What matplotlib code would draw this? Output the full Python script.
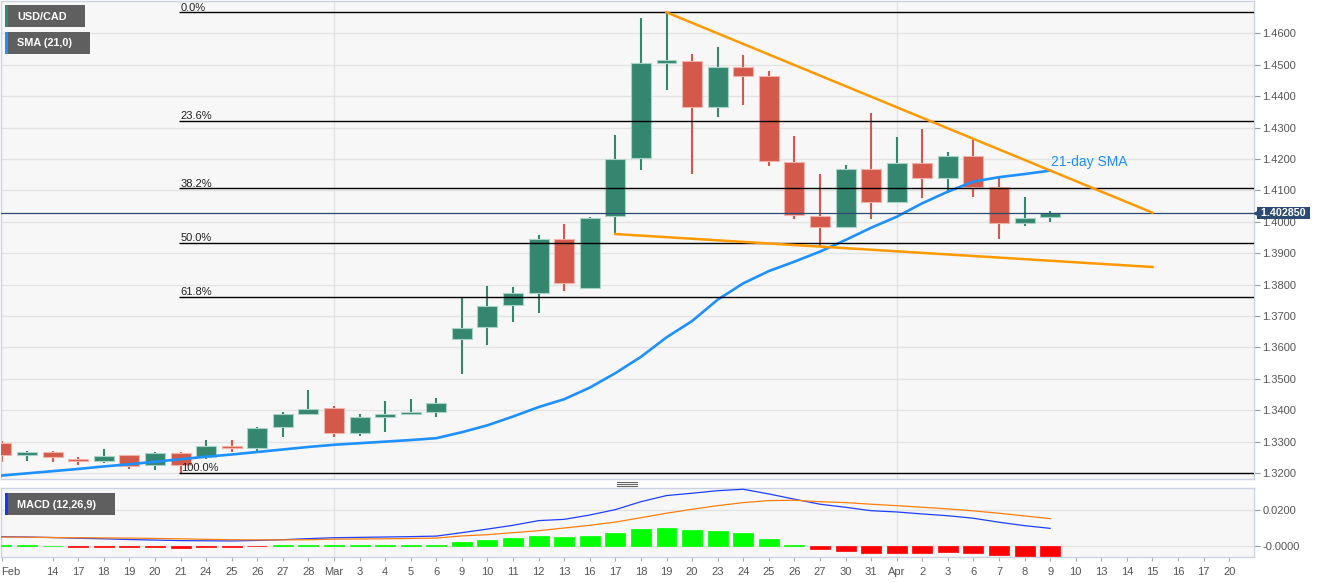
import matplotlib
matplotlib.use('Agg')
import matplotlib.pyplot as plt
from matplotlib.patches import Rectangle
from matplotlib.lines import Line2D
from matplotlib.transforms import Affine2D, blended_transform_factory
import numpy as np

plt.rcParams['font.family'] = ['Liberation Sans', 'DejaVu Sans']

# daily USD/CAD candles, Feb 12 .. Apr 9
opens = [1.3296, 1.3258, 1.3268, 1.3246, 1.3238, 1.3256, 1.3224, 1.3263, 1.3252, 1.3287,
         1.3279, 1.3346, 1.3388, 1.3406, 1.3327, 1.3380, 1.3388, 1.3394, 1.3626, 1.3664,
         1.3734, 1.3774, 1.3944, 1.3789, 1.4018, 1.4204, 1.4506, 1.4512, 1.4364, 1.4494,
         1.4463, 1.4190, 1.4018, 1.3983, 1.4167, 1.4064, 1.4188, 1.4139, 1.4210, 1.4110,
         1.3995, 1.4014]
highs = [1.3302, 1.3271, 1.3270, 1.3250, 1.3277, 1.3257, 1.3268, 1.3268, 1.3305, 1.3305,
         1.3348, 1.3395, 1.3465, 1.3414, 1.3388, 1.3430, 1.3436, 1.3438, 1.3758, 1.3796,
         1.3792, 1.3958, 1.3992, 1.4015, 1.4276, 1.4649, 1.4667, 1.4534, 1.4556, 1.4531,
         1.4480, 1.4273, 1.4152, 1.4181, 1.4345, 1.4271, 1.4295, 1.4223, 1.4260, 1.4142,
         1.4078, 1.4034]
lows = [1.3236, 1.3239, 1.3236, 1.3224, 1.3231, 1.3213, 1.3210, 1.3200, 1.3245, 1.3268,
        1.3268, 1.3316, 1.3385, 1.3316, 1.3319, 1.3330, 1.3388, 1.3380, 1.3516, 1.3609,
        1.3682, 1.3708, 1.3781, 1.3789, 1.3961, 1.4166, 1.4420, 1.4151, 1.4335, 1.4373,
        1.4179, 1.4010, 1.3924, 1.3983, 1.4009, 1.4062, 1.4077, 1.4093, 1.4080, 1.3944,
        1.3988, 1.4000]
closes = [1.3258, 1.3267, 1.3250, 1.3238, 1.3255, 1.3223, 1.3263, 1.3226, 1.3287, 1.3281,
          1.3344, 1.3388, 1.3404, 1.3327, 1.3378, 1.3387, 1.3394, 1.3422, 1.3661, 1.3732,
          1.3772, 1.3945, 1.3805, 1.4013, 1.4200, 1.4505, 1.4514, 1.4364, 1.4494, 1.4464,
          1.4193, 1.4021, 1.3983, 1.4167, 1.4064, 1.4188, 1.4139, 1.4210, 1.4112, 1.3995,
          1.4013, 1.40285]
sma21 = [1.3192, 1.3199, 1.3206, 1.3213, 1.3221, 1.3228, 1.3236, 1.3244, 1.3252, 1.3259,
         1.3267, 1.3275, 1.3283, 1.3290, 1.3295, 1.3300, 1.3305, 1.3311, 1.3330, 1.3352,
         1.3380, 1.3410, 1.3435, 1.3472, 1.3518, 1.3570, 1.3632, 1.3684, 1.3752, 1.3804,
         1.3843, 1.3873, 1.3905, 1.3942, 1.3981, 1.4016, 1.4059, 1.4096, 1.4128, 1.4142,
         1.4152, 1.4163]

# MACD (12,26,9)
macd = [0.0052, 0.0050, 0.0047, 0.0043, 0.0040, 0.0036, 0.0033, 0.0030, 0.0029, 0.0028,
        0.0031, 0.0035, 0.0041, 0.0046, 0.0048, 0.0050, 0.0052, 0.0055, 0.0074, 0.0094,
        0.0115, 0.0141, 0.0148, 0.0172, 0.0202, 0.0246, 0.0280, 0.0293, 0.0307, 0.0315,
        0.0289, 0.0260, 0.0232, 0.0215, 0.0196, 0.0189, 0.0178, 0.0168, 0.0154, 0.0132,
        0.0113, 0.0098]
signal = [0.0050, 0.0049, 0.0047, 0.0046, 0.0045, 0.0044, 0.0042, 0.0040, 0.0037, 0.0035,
          0.0034, 0.0034, 0.0035, 0.0038, 0.0039, 0.0040, 0.0042, 0.0044, 0.0056, 0.0063,
          0.0074, 0.0085, 0.0100, 0.0115, 0.0133, 0.0157, 0.0182, 0.0204, 0.0224, 0.0241,
          0.0252, 0.0254, 0.0246, 0.0241, 0.0232, 0.0224, 0.0215, 0.0206, 0.0195, 0.0182,
          0.0167, 0.0152]
hist = [0.0004, 0.0004, 0.0001, -0.0004, -0.0005, -0.0008, -0.0008, -0.0010, -0.0006, -0.0006,
        -0.0001, 0.0004, 0.0008, 0.0006, 0.0005, 0.0005, 0.0005, 0.0005, 0.0022, 0.0035,
        0.0043, 0.0056, 0.0050, 0.0057, 0.0071, 0.0093, 0.0100, 0.0089, 0.0083, 0.0072,
        0.0041, 0.0007, -0.0018, -0.0026, -0.0037, -0.0037, -0.0037, -0.0035, -0.0041, -0.0050,
        -0.0054, -0.0054]

# x axis labels (trading days incl. future slots up to Apr 20)
day_labels = ["Feb", "", "14", "17", "18", "19", "20", "21", "24", "25", "26", "27", "28",
              "Mar", "3", "4", "5", "6", "9", "10", "11", "12", "13", "16", "17", "18", "19",
              "20", "23", "24", "25", "26", "27", "30", "31", "Apr", "2", "3", "6", "7", "8",
              "9", "10", "13", "14", "15", "16", "17", "20"]

fib_high, fib_low = 1.4667, 1.3200
fib_ratios = [0.0, 0.236, 0.382, 0.5, 0.618, 1.0]
fib_start = 6.95

# trend lines: (x index, price)
upper_trend = [(26, 1.4667), (45, 1.4029)]
lower_trend = [(24, 1.3961), (45, 1.3856)]

W, H = 1331, 583
GREEN, RED = '#35866f', '#d3594a'
FRAME = '#cbd3e3'

fig = plt.figure(figsize=(W / 100, H / 100), dpi=100)
fig.patch.set_facecolor('white')
px = Affine2D().scale(1 / W, -1 / H).translate(0, 1) + fig.transFigure


def axes_px(x0, y0, x1, y1):
    return fig.add_axes([x0 / W, 1 - y1 / H, (x1 - x0) / W, (y1 - y0) / H])


ax = axes_px(1, 1, 1254, 479)
axm = axes_px(1, 488, 1254, 557)

n = len(closes)
x = np.arange(n)
xlim = (-0.02, 48.97)

for a in (ax, axm):
    a.set_facecolor('#f7f7f7')
    a.set_xlim(*xlim)
    for s in a.spines.values():
        s.set_color(FRAME)
        s.set_linewidth(1)
    a.yaxis.tick_right()
    a.tick_params(axis='y', length=4, width=0.8, color='#999999', labelsize=8,
                  labelcolor='#555555', pad=2)
    a.yaxis.grid(True, color='#e3e3e3', lw=1)
    a.set_axisbelow(True)
    for m in ("Mar", "Apr"):
        a.axvline(day_labels.index(m), color='#e3e3e3', lw=1, zorder=0)

# ---- price panel
ax.set_ylim(1.3181, 1.4703)
yt = np.round(np.arange(1.32, 1.4601, 0.01), 2)
ax.set_yticks(yt)
ax.set_yticklabels(['%.4f' % v for v in yt])
ax.set_xticks([])

o, c = np.array(opens), np.array(closes)
up = c >= o
cols = np.where(up, GREEN, RED)
edges = np.where(up, '#a9d3c6', '#f2b4aa')
ax.vlines(x, lows, highs, color=cols, lw=1.5, zorder=2)
ax.bar(x, np.maximum(np.abs(c - o), 0.0003), bottom=np.minimum(o, c), width=0.78,
       color=cols, edgecolor=edges, linewidth=0.8, zorder=3)

ax.plot(x, sma21, color='#1e90ff', lw=1.9, zorder=4)
ax.text(x[-1] + 0.05, sma21[-1] + 0.0027, '21-day SMA', color='#1e90ff', fontsize=10,
        ha='left', va='center')

for pts in (upper_trend, lower_trend):
    ax.plot([p[0] for p in pts], [p[1] for p in pts], color='#ff9900', lw=1.8, zorder=5)

for r in fib_ratios:
    lvl = fib_high - r * (fib_high - fib_low)
    ax.hlines(lvl, fib_start, xlim[1], color='black', lw=1.0, zorder=4)
    ax.annotate('%.1f%%' % (r * 100), (fib_start, lvl), xytext=(1, 1.2),
                textcoords='offset points', ha='left', va='baseline', fontsize=8,
                color='#222222', zorder=6)

last = closes[-1]
ax.axhline(last, color='#2c4b74', lw=0.9, zorder=4)
bt = blended_transform_factory(ax.transAxes, ax.transData)
ax.text(1.0035, last, ' %.6f ' % last, transform=bt, ha='left', va='center', color='white',
        fontsize=7.7, fontweight='bold', clip_on=False, zorder=10,
        bbox=dict(boxstyle='square,pad=0.12', fc='#2c4b74', ec='none'))
ax.plot([1.0018], [last], marker='<', ms=3.5, color='#2c4b74', transform=bt, clip_on=False,
        zorder=10)

# ---- MACD panel
axm.set_ylim(-0.0061, 0.0322)
axm.set_yticks([0.0, 0.02])
axm.set_yticklabels(['-0.0000', '0.0200'])
hc = np.where(np.array(hist) >= 0, '#00ff00', '#ff0000')
axm.bar(x, hist, width=0.78, color=hc, edgecolor=hc, linewidth=0.5, zorder=3)
axm.plot(x, macd, color='#1f3fff', lw=0.9, zorder=4)
axm.plot(x, signal, color='#ff7f0e', lw=0.9, zorder=4)

ticks = [i for i, s in enumerate(day_labels) if s]
axm.set_xticks(ticks)
axm.set_xticklabels([day_labels[i] for i in ticks])
axm.tick_params(axis='x', length=3, width=0.8, color='#aaaaaa', labelsize=8,
                labelcolor='#555555', pad=4)
axm.get_xticklabels()[0].set_ha('left')

# ---- legend boxes
for (bx, by, bw, stripe, label) in [(5, 5, 80, '#2e8b70', 'USD/CAD'),
                                    (5, 32, 85, '#1e90ff', 'SMA (21,0)'),
                                    (5, 493, 110, '#0a3cff', 'MACD (12,26,9)')]:
    fig.add_artist(Rectangle((bx, by), bw, 22, transform=px, fc='#5f5f5f', ec='none'))
    fig.add_artist(Rectangle((bx, by), 2.5, 22, transform=px, fc=stripe, ec='none'))
    fig.text(bx + 12, by + 11.5, label, transform=px, color='white', fontsize=7.8,
             fontweight='bold', ha='left', va='center')

# divider handle
for yy in (482, 484, 486):
    fig.add_artist(Line2D([617, 637], [yy, yy], transform=px, color='#666666', lw=0.8))

fig.savefig('out.png', dpi=100)
